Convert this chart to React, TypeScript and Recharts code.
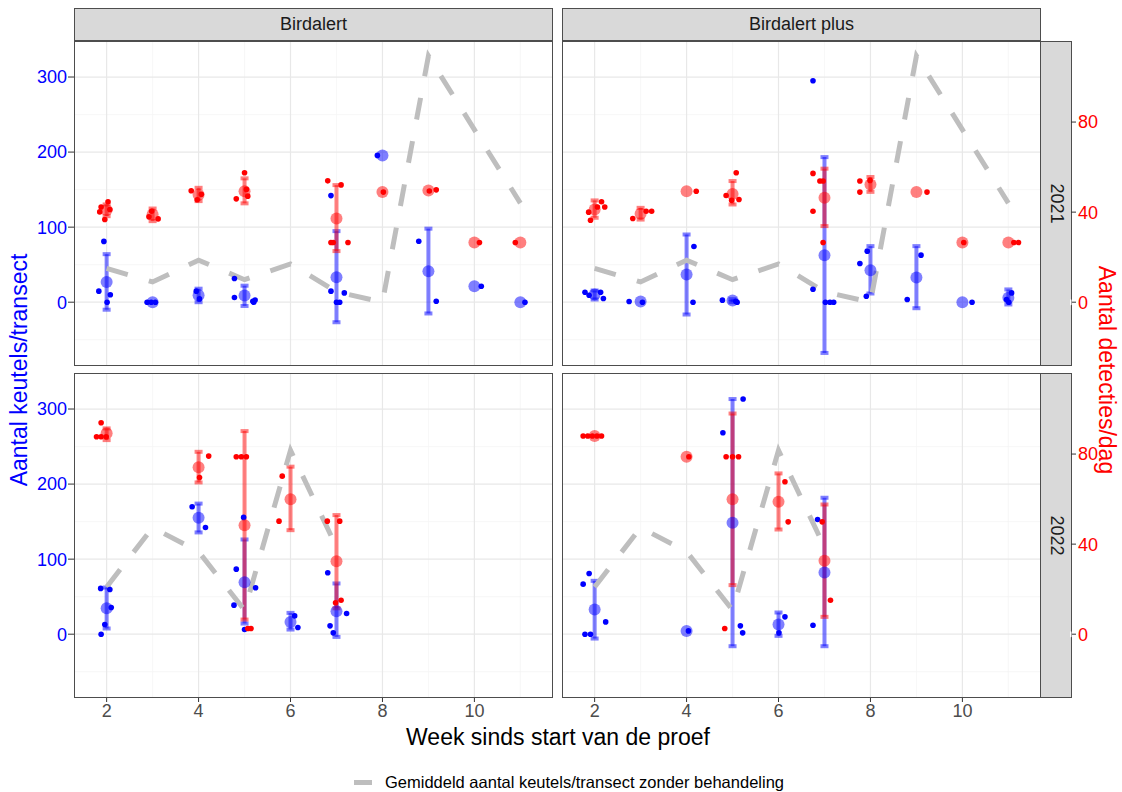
import React from "react";
import { ComposedChart, Scatter, Line, XAxis, YAxis, CartesianGrid, ErrorBar } from "recharts";

type Pt = [number, number]; // week (jittered), value
type Mean = [number, number, number, number]; // week, mean, low, high

// Birdalert 2021
const ba21BlueRaw: Pt[] = [
  [1.94, 81], [1.83, 14.7], [2.08, 10], [2.01, 0],
  [2.88, 0], [2.97, 0], [3.06, 0],
  [3.95, 14.7], [4.02, 4.4],
  [4.78, 31.6], [4.78, 6.2], [5.18, 1.3], [5.23, 3], [5.2, 0],
  [6.88, 142], [6.88, 14.7], [7.17, 12.4], [7.0, 0], [7.07, 0],
  [7.89, 195.6],
  [8.79, 81.3], [9.17, 1.3],
  [10.15, 21.3],
  [11.1, 0],
];
const ba21BlueMean: Mean[] = [
  [2, 27, -10, 64], [3, 0, 0, 0], [4, 9.3, 0, 18], [5, 8.9, -5, 22],
  [7, 33.3, -26.7, 94.7], [8, 195.6, 195.6, 195.6], [9, 41.3, -15, 98],
  [10, 21.3, 21.3, 21.3], [11, 0, 0, 0],
];
const ba21RedRaw: Pt[] = [
  [2.03, 44.6], [1.88, 42.3], [1.85, 40.1], [1.96, 36.7], [2.07, 41.2],
  [2.98, 40.4], [3.12, 37], [2.92, 37.9],
  [3.84, 49.5], [3.97, 45.5], [4.06, 47.9],
  [5.0, 57.5], [4.82, 45.9], [5.07, 47.1], [5.04, 50.1],
  [6.81, 53.9], [7.1, 52.1], [6.88, 26.5], [6.93, 26.5], [7.25, 26.5],
  [8.02, 48.9],
  [9.17, 49.9], [9.02, 49.4],
  [10.11, 26.5],
  [10.89, 26.5],
];
const ba21RedMean: Mean[] = [
  [2, 40.9, 38.2, 43.4], [3, 39, 36, 41.6], [4, 47.7, 44.9, 50.8], [5, 49.3, 43.9, 55],
  [7, 37.2, 22.7, 52], [8, 48.9, 48.9, 48.9], [9, 49.6, 49.6, 49.6],
  [10, 26.5, 26.5, 26.5], [11, 26.5, 26.5, 26.5],
];

// Birdalert plus 2021
const bp21BlueRaw: Pt[] = [
  [1.79, 13.3], [2.13, 13.3], [2.19, 4.9], [1.88, 9.3],
  [2.75, 0.9], [3.04, 0],
  [4.16, 74.2], [4.14, 0],
  [4.78, 2.7], [5.07, 1.3], [5.1, 0],
  [6.75, 295], [6.75, 17.3], [7.02, 0], [7.12, 0], [7.2, 0],
  [7.93, 68], [7.77, 51.6], [7.91, 8],
  [9.1, 62.7], [8.8, 3.6],
  [10.21, 0],
  [11.07, 12.4], [11.01, 0], [10.96, 3.6],
];
const bp21BlueMean: Mean[] = [
  [2, 10.2, 3.6, 15.6], [3, 0.9, 0.9, 0.9], [4, 36.9, -16.4, 90.2], [5, 2.2, 0, 4],
  [7, 62.7, -67.6, 193.3], [8, 42.7, 11.6, 74.7], [9, 33, -8, 74.7],
  [10, 0, 0, 0], [11, 5.8, -3, 17],
];
const bp21RedRaw: Pt[] = [
  [2.15, 44.6], [2.22, 42.3], [2.06, 42.3], [1.91, 36.4], [1.87, 40],
  [2.83, 37.2], [3.12, 40.4], [3.24, 40.4],
  [4.21, 49.3],
  [5.08, 57.5], [4.86, 47.4], [5.14, 45.6], [4.98, 45.3],
  [6.75, 57.2], [6.97, 53.8], [6.9, 53.8], [6.75, 40.4], [6.97, 26.5],
  [7.77, 53.8], [7.99, 54.1], [7.77, 48.9],
  [9.23, 48.9],
  [10.03, 26.5],
  [11.12, 26.5], [11.22, 26.5],
];
const bp21RedMean: Mean[] = [
  [2, 41.2, 37.5, 45.2], [3, 39.3, 36.7, 41.9], [4, 49.3, 49.3, 49.3], [5, 48.1, 43.4, 53.8],
  [7, 46.4, 33.8, 59.3], [8, 52.3, 49, 55.6], [9, 48.9, 48.9, 48.9],
  [10, 26.5, 26.5, 26.5], [11, 26.5, 26.5, 26.5],
];

// Birdalert 2022
const ba22BlueRaw: Pt[] = [
  [1.87, 61], [2.07, 59.6], [1.96, 12.9], [1.88, 0], [2.1, 35.6],
  [3.86, 169.8], [4.15, 142.2],
  [4.82, 86.7], [5.24, 61.8], [4.77, 38.7], [5.0, 6.2], [4.98, 155.6],
  [6.09, 24.4], [6.16, 8.9],
  [6.81, 81.8], [7.22, 27.6], [6.86, 11.1], [6.93, 1.8],
];
const ba22BlueMean: Mean[] = [
  [2, 34.7, 7.6, 62.2], [4, 155, 135.6, 174], [5, 69.3, 14.2, 126.2],
  [6, 16.4, 6.2, 28.4], [7, 30.7, -3.6, 67.6],
];
const ba22RedRaw: Pt[] = [
  [1.88, 93.9], [1.78, 87.7], [1.88, 87.7], [1.99, 87.7],
  [4.22, 79.1], [4.02, 69.6],
  [4.82, 78.8], [4.93, 78.8], [5.04, 78.8], [5.07, 2.5], [5.14, 2.5],
  [5.82, 70.2], [5.75, 50.2],
  [6.8, 50.2], [7.07, 50.2], [7.1, 15.1], [6.98, 14],
];
const ba22RedMean: Mean[] = [
  [2, 89.2, 86.2, 91.4], [4, 74.1, 67.4, 81], [5, 48.4, 6.5, 90.2],
  [6, 59.9, 46.2, 74.4], [7, 32.4, 11.5, 52.9],
];

// Birdalert plus 2022
const bp22BlueRaw: Pt[] = [
  [1.88, 80.9], [1.75, 66.7], [2.24, 16.4], [1.79, 0], [1.91, 0],
  [4.04, 4.4],
  [5.23, 313.3], [4.79, 268.4], [5.17, 11.1], [5.22, 1.8],
  [6.14, 23.1], [6.01, 1.8],
  [6.85, 152.9], [6.75, 12],
];
const bp22BlueMean: Mean[] = [
  [2, 32.9, -5.8, 71.1], [4, 4.4, 4.4, 4.4], [5, 148.4, -16, 313.3],
  [6, 12.9, -2.2, 28.9], [7, 82.2, -16, 181.8],
];
const bp22RedRaw: Pt[] = [
  [1.75, 88], [1.85, 88], [1.95, 88], [2.05, 88], [2.15, 88],
  [4.05, 78.8],
  [4.86, 78.8], [5.0, 78.8], [5.13, 78.8], [4.83, 2.5],
  [6.14, 67.7], [6.21, 49.9],
  [6.95, 49.9], [7.13, 15.1],
];
const bp22RedMean: Mean[] = [
  [2, 88, 88, 88], [4, 78.8, 78.8, 78.8], [5, 59.9, 21.8, 98],
  [6, 58.8, 46.5, 71.4], [7, 32.6, 7.7, 57.6],
];

// control mean (no treatment), per year
const control2021: Pt[] = [
  [2, 45], [3, 27], [4, 56], [5, 30], [6, 51], [7, 14], [8, 0], [9, 328], [10, 230], [11, 132],
];
const control2022: Pt[] = [
  [2, 63], [3, 142], [4, 110], [5, 32], [6, 245], [7, 116],
];

const xTicks = [2, 4, 6, 8, 10];
const yTicks = [0, 100, 200, 300];
const rTicks = [0, 40, 80];

const X_DOMAIN = [1.29, 11.71];
const Y_DOMAIN = [-85, 348];
const R_DOMAIN = [-85 / 3, 348 / 3];

const PLOT_W = 479;
const PLOT_H = 325;
const BLUE = "#0000ff";
const RED = "#ff0000";
const FONT = "'Liberation Sans', Arial, sans-serif";

const toPts = (a: Pt[]) => a.map(([x, y]) => ({ x, y }));
const toMeans = (a: Mean[]) => a.map(([x, y, lo, hi]) => ({ x, y, err: [y - lo, hi - y] }));
const withErr = (a: Mean[]) => toMeans(a.filter(([, , lo, hi]) => hi - lo > 0));

const dot = (r: number, fill: string, op: number) => (p: any) =>
  <circle cx={p.cx} cy={p.cy} r={r} fill={fill} fillOpacity={op} />;
const noDot = () => <g />;

type PanelProps = {
  left: number;
  top: number;
  showY: boolean;
  showX: boolean;
  blueRaw: Pt[];
  blueMean: Mean[];
  redRaw: Pt[];
  redMean: Mean[];
  control: Pt[];
};

const Panel = ({ left, top, showY, showX, blueRaw, blueMean, redRaw, redMean, control }: PanelProps) => {
  const yW = showY ? 60 : 0;
  const xH = showX ? 34 : 0;
  return (
    <div style={{ position: "absolute", left: left - yW, top }}>
      <ComposedChart width={PLOT_W + yW} height={PLOT_H + xH} margin={{ top: 0, right: 0, bottom: 0, left: 0 }}>
        <CartesianGrid
          horizontalValues={[-50, 50, 150, 250]}
          verticalValues={[3, 5, 7, 9, 11]}
          stroke="#f3f3f3"
          strokeWidth={0.7}
        />
        <CartesianGrid
          horizontalValues={[0, 100, 200, 300]}
          verticalValues={[2, 4, 6, 8, 10]}
          stroke="#e8e8e8"
          strokeWidth={1.2}
        />
        <XAxis
          dataKey="x"
          type="number"
          domain={X_DOMAIN}
          ticks={xTicks}
          allowDataOverflow
          hide={!showX}
          height={xH}
          axisLine={false}
          tickSize={4}
          tickMargin={2}
          tickLine={{ stroke: "#333" }}
          tick={{ fill: "#4d4d4d", fontSize: 18 }}
        />
        <YAxis
          dataKey="y"
          type="number"
          domain={Y_DOMAIN}
          ticks={yTicks}
          allowDataOverflow
          hide={!showY}
          width={yW}
          axisLine={false}
          tickSize={6}
          tickMargin={1}
          tickLine={{ stroke: "#333" }}
          tick={{ fill: BLUE, fontSize: 18 }}
        />
        <YAxis yAxisId="r" dataKey="y" type="number" orientation="right" domain={R_DOMAIN} allowDataOverflow hide />

        <Scatter data={withErr(blueMean)} shape={noDot} isAnimationActive={false}>
          <ErrorBar dataKey="err" direction="y" width={4} strokeWidth={4} stroke={BLUE} strokeOpacity={0.5} />
        </Scatter>
        <Scatter data={toMeans(blueMean)} shape={dot(6, BLUE, 0.5)} isAnimationActive={false} />
        <Scatter data={toPts(blueRaw)} shape={dot(2.8, BLUE, 1)} isAnimationActive={false} />

        <Scatter yAxisId="r" data={withErr(redMean)} shape={noDot} isAnimationActive={false}>
          <ErrorBar dataKey="err" direction="y" width={4} strokeWidth={4} stroke={RED} strokeOpacity={0.5} />
        </Scatter>
        <Scatter yAxisId="r" data={toMeans(redMean)} shape={dot(6, RED, 0.5)} isAnimationActive={false} />
        <Scatter yAxisId="r" data={toPts(redRaw)} shape={dot(2.8, RED, 1)} isAnimationActive={false} />

        <Line
          data={toPts(control)}
          dataKey="y"
          type="linear"
          stroke="#bebebe"
          strokeWidth={5}
          strokeDasharray="22 22"
          dot={false}
          activeDot={false}
          isAnimationActive={false}
        />
      </ComposedChart>
      <div
        style={{
          position: "absolute",
          left: yW,
          top: 0,
          width: PLOT_W,
          height: PLOT_H,
          border: "1px solid #4d4d4d",
          boxSizing: "border-box",
          pointerEvents: "none",
        }}
      />
    </div>
  );
};

const axisHolder = [{ x: 0, y: 0 }];

const RightAxis = ({ top }: { top: number }) => (
  <div style={{ position: "absolute", left: 1070, top }}>
    <ComposedChart width={46} height={PLOT_H} data={axisHolder} margin={{ top: 0, right: 0, bottom: 0, left: 0 }}>
      <XAxis dataKey="x" type="number" domain={[0, 1]} hide />
      <YAxis
        dataKey="y"
        type="number"
        orientation="right"
        domain={R_DOMAIN}
        ticks={rTicks}
        allowDataOverflow
        width={45}
        axisLine={false}
        tickSize={5}
        tickMargin={2}
        tickLine={{ stroke: "#333" }}
        tick={{ fill: RED, fontSize: 18 }}
      />
      <Line dataKey="y" stroke="none" dot={false} isAnimationActive={false} />
    </ComposedChart>
  </div>
);

const stripBase: React.CSSProperties = {
  position: "absolute",
  background: "#d9d9d9",
  border: "1px solid #4d4d4d",
  boxSizing: "border-box",
  display: "flex",
  alignItems: "center",
  justifyContent: "center",
  color: "#1a1a1a",
  fontSize: 18,
};

const TopStrip = ({ left, label }: { left: number; label: string }) => (
  <div style={{ ...stripBase, left, top: 8, width: PLOT_W, height: 33 }}>{label}</div>
);

const SideStrip = ({ top, label }: { top: number; label: string }) => (
  <div style={{ ...stripBase, left: 1040, top, width: 32, height: PLOT_H }}>
    <span style={{ transform: "rotate(90deg)", whiteSpace: "nowrap" }}>{label}</span>
  </div>
);

export default function App() {
  return (
    <div style={{ position: "absolute", left: 0, top: 0, width: 1122, height: 792, background: "#fff", fontFamily: FONT }}>
      <TopStrip left={74} label="Birdalert" />
      <TopStrip left={562} label="Birdalert plus" />

      <Panel left={74} top={41} showY showX={false}
        blueRaw={ba21BlueRaw} blueMean={ba21BlueMean} redRaw={ba21RedRaw} redMean={ba21RedMean} control={control2021} />
      <Panel left={562} top={41} showY={false} showX={false}
        blueRaw={bp21BlueRaw} blueMean={bp21BlueMean} redRaw={bp21RedRaw} redMean={bp21RedMean} control={control2021} />
      <Panel left={74} top={373} showY showX
        blueRaw={ba22BlueRaw} blueMean={ba22BlueMean} redRaw={ba22RedRaw} redMean={ba22RedMean} control={control2022} />
      <Panel left={562} top={373} showY={false} showX
        blueRaw={bp22BlueRaw} blueMean={bp22BlueMean} redRaw={bp22RedRaw} redMean={bp22RedMean} control={control2022} />

      <SideStrip top={41} label="2021" />
      <SideStrip top={373} label="2022" />
      <RightAxis top={41} />
      <RightAxis top={373} />

      <div style={{ position: "absolute", left: 19, top: 370, transform: "translate(-50%, -50%) rotate(-90deg)", whiteSpace: "nowrap", color: BLUE, fontSize: 23 }}>
        Aantal keutels/transect
      </div>
      <div style={{ position: "absolute", left: 1106, top: 370, transform: "translate(-50%, -50%) rotate(90deg)", whiteSpace: "nowrap", color: RED, fontSize: 23 }}>
        Aantal detecties/dag
      </div>
      <div style={{ position: "absolute", left: 558, top: 737, transform: "translate(-50%, -50%)", whiteSpace: "nowrap", color: "#000", fontSize: 23 }}>
        Week sinds start van de proef
      </div>
      <div style={{ position: "absolute", left: 568, top: 782, transform: "translate(-50%, -50%)", whiteSpace: "nowrap", display: "flex", alignItems: "center", fontSize: 16.5, color: "#000" }}>
        <svg width={22} height={10} style={{ marginRight: 11 }}>
          <line x1={2} y1={5} x2={20} y2={5} stroke="#bebebe" strokeWidth={5} />
        </svg>
        Gemiddeld aantal keutels/transect zonder behandeling
      </div>
    </div>
  );
}
